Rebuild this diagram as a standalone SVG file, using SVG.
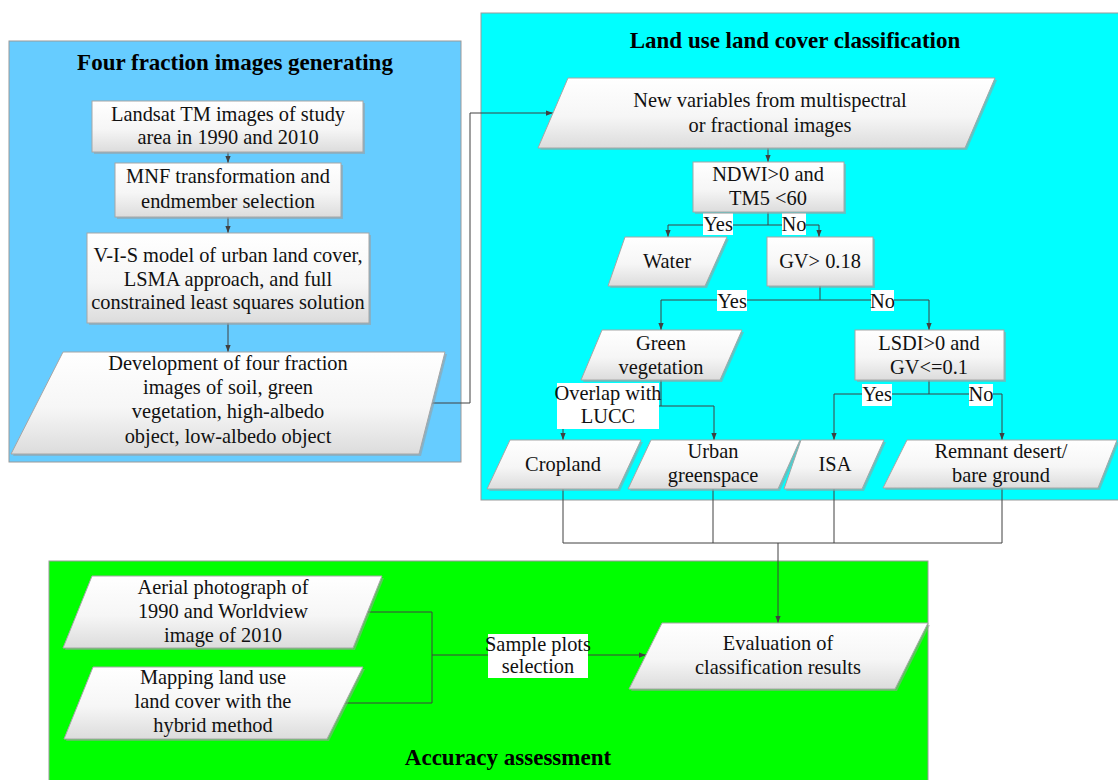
<svg xmlns="http://www.w3.org/2000/svg" width="1118" height="780" viewBox="0 0 1118 780">
<defs>
<linearGradient id="g" x1="0" y1="0" x2="0" y2="1">
<stop offset="0" stop-color="#ffffff"/>
<stop offset="0.55" stop-color="#f6f6f6"/>
<stop offset="1" stop-color="#dcdcdc"/>
</linearGradient>
<marker id="a" viewBox="0 0 8 8" refX="8" refY="4" markerWidth="7" markerHeight="7" orient="auto" markerUnits="userSpaceOnUse">
<path d="M0,1 L8,4 L0,7 z" fill="#404040"/>
</marker>
<style>
.panel{stroke:#9a9a9a;stroke-width:1}
.n{fill:url(#g);stroke:#a6a6a6;stroke-width:1}
.sh{fill:#9c9c9c;opacity:0.55}
.t{font-family:"Liberation Serif","Times New Roman",serif;font-size:20.4px;fill:#111;text-anchor:middle}
.h{font-family:"Liberation Serif","Times New Roman",serif;font-size:23px;font-weight:bold;fill:#000;text-anchor:middle}
.c{fill:none;stroke:#404040;stroke-width:1}
.ca{fill:none;stroke:#404040;stroke-width:1;marker-end:url(#a)}
.lb{fill:#ffffff}
</style>
</defs>
<rect width="1118" height="780" fill="#ffffff"/>

<g id="panel-fraction">
<rect class="panel" x="9" y="41" width="452" height="421" fill="#66ccff"/>
<text class="h" x="235" y="70">Four fraction images generating</text>
</g>
<g id="panel-lulc">
<rect class="panel" x="481" y="13" width="650" height="487" fill="#00ffff"/>
<text class="h" x="795" y="48">Land use land cover classification</text>
</g>
<g id="panel-accuracy">
<rect class="panel" x="49" y="561" width="879" height="235" fill="#00ff00"/>
<text class="h" x="508" y="765">Accuracy assessment</text>
</g>

<g id="connectors">
<path class="ca" d="M228,152 V163"/>
<path class="ca" d="M228,217 V233"/>
<path class="ca" d="M228,323 V352"/>
<path class="ca" d="M432,403 H470 V113 H553"/>
<path class="ca" d="M768,148 V162"/>
<path class="ca" d="M768,212 V225 H668 V237"/>
<path class="ca" d="M768,225 H819 V237"/>
<path class="ca" d="M820,286 V300 H661 V330"/>
<path class="ca" d="M820,300 H929 V330"/>
<path class="ca" d="M661,380 V406 H714 V440"/>
<path class="ca" d="M661,406 H563 V440"/>
<path class="ca" d="M929,380 V394 H834 V440"/>
<path class="ca" d="M929,394 H1002 V440"/>
<path class="c" d="M563,489 V543 H1002 V488"/>
<path class="c" d="M713,489 V543"/>
<path class="c" d="M834,489 V543"/>
<path class="ca" d="M778,543 V623"/>
<path class="c" d="M367,612 H432 V703 H345"/>
<path class="ca" d="M432,655 H646"/>
</g>

<g id="labels">
<rect class="lb" x="703" y="213" width="30" height="22"/>
<text class="t" x="718" y="231">Yes</text>
<rect class="lb" x="782" y="213" width="24" height="22"/>
<text class="t" x="794" y="231">No</text>
<rect class="lb" x="717" y="290" width="30" height="21"/>
<text class="t" x="732" y="308">Yes</text>
<rect class="lb" x="871" y="290" width="23" height="21"/>
<text class="t" x="882.5" y="308">No</text>
<rect class="lb" x="862" y="384" width="30" height="22"/>
<text class="t" x="877" y="401">Yes</text>
<rect class="lb" x="969" y="384" width="24" height="22"/>
<text class="t" x="981" y="401">No</text>
<rect class="lb" x="557" y="383" width="102" height="46"/>
<text class="t" x="608" y="400">Overlap with</text>
<text class="t" x="608" y="423">LUCC</text>
<rect class="lb" x="488" y="634" width="100" height="44"/>
<text class="t" x="538" y="651">Sample plots</text>
<text class="t" x="538" y="673">selection</text>
</g>

<g id="n-landsat">
<rect class="sh" x="94" y="103" width="271" height="51"/>
<rect class="n" x="92" y="101" width="271" height="51"/>
<text class="t" x="228" y="121">Landsat TM images of study</text>
<text class="t" x="228" y="144">area in 1990 and 2010</text>
</g>
<g id="n-mnf">
<rect class="sh" x="117" y="165" width="226" height="54"/>
<rect class="n" x="115" y="163" width="226" height="54"/>
<text class="t" x="228" y="183">MNF transformation and</text>
<text class="t" x="228" y="208">endmember selection</text>
</g>
<g id="n-vis">
<rect class="sh" x="89" y="235" width="282" height="90"/>
<rect class="n" x="87" y="233" width="282" height="90"/>
<text class="t" x="228" y="262">V-I-S model of urban land cover,</text>
<text class="t" x="228" y="286">LSMA approach, and full</text>
<text class="t" x="228" y="309">constrained least squares solution</text>
</g>
<g id="n-development">
<polygon class="sh" points="65,354 447,354 421,456 13,456"/>
<polygon class="n" points="63,352 445,352 419,454 11,454"/>
<text class="t" x="228" y="370">Development of four fraction</text>
<text class="t" x="228" y="394">images of soil, green</text>
<text class="t" x="228" y="418">vegetation, high-albedo</text>
<text class="t" x="228" y="443">object, low-albedo object</text>
</g>

<g id="n-newvars">
<polygon class="sh" points="570,80 997,80 967,150 540,150"/>
<polygon class="n" points="568,78 995,78 965,148 538,148"/>
<text class="t" x="770" y="107">New variables from multispectral</text>
<text class="t" x="770" y="132">or fractional images</text>
</g>
<g id="n-ndwi">
<rect class="sh" x="695" y="164" width="151" height="50"/>
<rect class="n" x="693" y="162" width="151" height="50"/>
<text class="t" x="768" y="181">NDWI&gt;0 and</text>
<text class="t" x="768" y="205">TM5 &lt;60</text>
</g>
<g id="n-water">
<polygon class="sh" points="627,239 729,239 707,288 610,288"/>
<polygon class="n" points="625,237 727,237 705,286 608,286"/>
<text class="t" x="667" y="268">Water</text>
</g>
<g id="n-gv">
<rect class="sh" x="769" y="239" width="106" height="49"/>
<rect class="n" x="767" y="237" width="106" height="49"/>
<text class="t" x="820" y="268">GV&gt; 0.18</text>
</g>
<g id="n-greenveg">
<polygon class="sh" points="604,332 744,332 722,382 583,382"/>
<polygon class="n" points="602,330 742,330 720,380 581,380"/>
<text class="t" x="661" y="350">Green</text>
<text class="t" x="661" y="374">vegetation</text>
</g>
<g id="n-lsdi">
<rect class="sh" x="857" y="332" width="149" height="50"/>
<rect class="n" x="855" y="330" width="149" height="50"/>
<text class="t" x="929" y="350">LSDI&gt;0 and</text>
<text class="t" x="929" y="374">GV&lt;=0.1</text>
</g>
<g id="n-cropland">
<polygon class="sh" points="512,442 643,442 620,491 489,491"/>
<polygon class="n" points="510,440 641,440 618,489 487,489"/>
<text class="t" x="563" y="471">Cropland</text>
</g>
<g id="n-urban">
<polygon class="sh" points="653,442 802,442 780,491 630,491"/>
<polygon class="n" points="651,440 800,440 778,489 628,489"/>
<text class="t" x="713" y="458">Urban</text>
<text class="t" x="713" y="482">greenspace</text>
</g>
<g id="n-isa">
<polygon class="sh" points="803,442 886,442 864,491 786,491"/>
<polygon class="n" points="801,440 884,440 862,489 784,489"/>
<text class="t" x="835" y="471">ISA</text>
</g>
<g id="n-remnant">
<polygon class="sh" points="909,442 1119,442 1100,490 885,490"/>
<polygon class="n" points="907,440 1117,440 1098,488 883,488"/>
<text class="t" x="1001" y="458">Remnant desert/</text>
<text class="t" x="1001" y="482">bare ground</text>
</g>

<g id="n-aerial">
<polygon class="sh" points="94,578 384,578 355,650 65,650"/>
<polygon class="n" points="92,576 382,576 353,648 63,648"/>
<text class="t" x="223" y="594">Aerial photograph of</text>
<text class="t" x="223" y="618">1990 and Worldview</text>
<text class="t" x="223" y="642">image of 2010</text>
</g>
<g id="n-mapping">
<polygon class="sh" points="95,669 365,669 329,741 66,741"/>
<polygon class="n" points="93,667 363,667 327,739 64,739"/>
<text class="t" x="213" y="684">Mapping land use</text>
<text class="t" x="213" y="708">land cover with the</text>
<text class="t" x="213" y="732">hybrid method</text>
</g>
<g id="n-evaluation">
<polygon class="sh" points="664,625 930,625 897,691 631,691"/>
<polygon class="n" points="662,623 928,623 895,689 629,689"/>
<text class="t" x="778" y="650">Evaluation of</text>
<text class="t" x="778" y="674">classification results</text>
</g>
</svg>
